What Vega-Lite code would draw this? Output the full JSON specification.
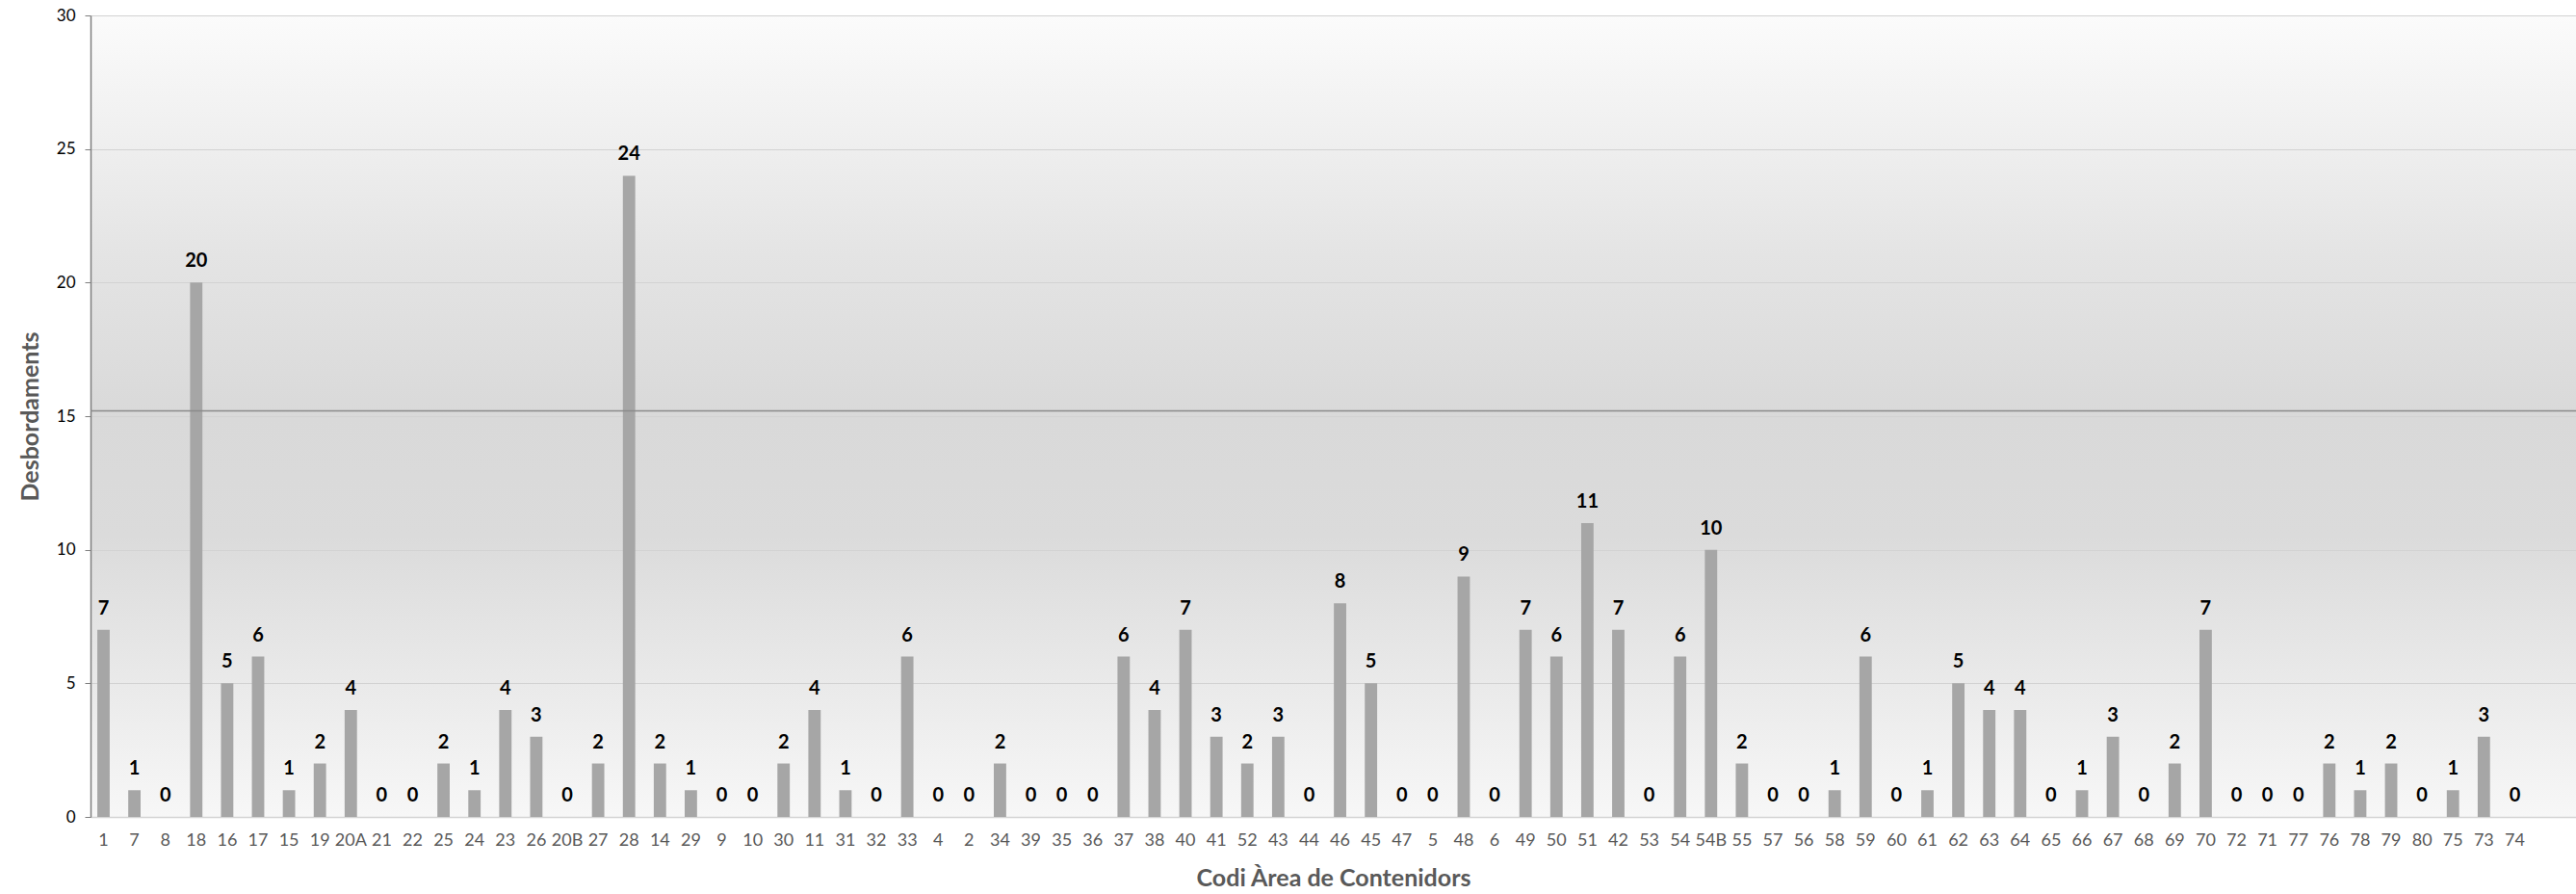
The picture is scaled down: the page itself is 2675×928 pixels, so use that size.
{
  "$schema": "https://vega.github.io/schema/vega-lite/v6.json",
  "width": 2581,
  "height": 832,
  "autosize": {"type": "none"},
  "padding": {"left": 94, "top": 16, "right": 0, "bottom": 80},
  "background": "#ffffff",
  "config": {
    "view": {
      "stroke": null,
      "fill": {
        "gradient": "linear",
        "x1": 0, "y1": 0, "x2": 0, "y2": 1,
        "stops": [
          {"offset": 0, "color": "#fbfbfb"},
          {"offset": 0.3, "color": "#e4e4e4"},
          {"offset": 0.5, "color": "#d9d9d9"},
          {"offset": 0.65, "color": "#dbdbdb"},
          {"offset": 0.85, "color": "#ebebeb"},
          {"offset": 1, "color": "#f7f7f7"}
        ]
      }
    },
    "font": "Lato"
  },
  "datasets": {
    "areas": [
      {"codi": "1", "desbordaments": 7},
      {"codi": "7", "desbordaments": 1},
      {"codi": "8", "desbordaments": 0},
      {"codi": "18", "desbordaments": 20},
      {"codi": "16", "desbordaments": 5},
      {"codi": "17", "desbordaments": 6},
      {"codi": "15", "desbordaments": 1},
      {"codi": "19", "desbordaments": 2},
      {"codi": "20A", "desbordaments": 4},
      {"codi": "21", "desbordaments": 0},
      {"codi": "22", "desbordaments": 0},
      {"codi": "25", "desbordaments": 2},
      {"codi": "24", "desbordaments": 1},
      {"codi": "23", "desbordaments": 4},
      {"codi": "26", "desbordaments": 3},
      {"codi": "20B", "desbordaments": 0},
      {"codi": "27", "desbordaments": 2},
      {"codi": "28", "desbordaments": 24},
      {"codi": "14", "desbordaments": 2},
      {"codi": "29", "desbordaments": 1},
      {"codi": "9", "desbordaments": 0},
      {"codi": "10", "desbordaments": 0},
      {"codi": "30", "desbordaments": 2},
      {"codi": "11", "desbordaments": 4},
      {"codi": "31", "desbordaments": 1},
      {"codi": "32", "desbordaments": 0},
      {"codi": "33", "desbordaments": 6},
      {"codi": "4", "desbordaments": 0},
      {"codi": "2", "desbordaments": 0},
      {"codi": "34", "desbordaments": 2},
      {"codi": "39", "desbordaments": 0},
      {"codi": "35", "desbordaments": 0},
      {"codi": "36", "desbordaments": 0},
      {"codi": "37", "desbordaments": 6},
      {"codi": "38", "desbordaments": 4},
      {"codi": "40", "desbordaments": 7},
      {"codi": "41", "desbordaments": 3},
      {"codi": "52", "desbordaments": 2},
      {"codi": "43", "desbordaments": 3},
      {"codi": "44", "desbordaments": 0},
      {"codi": "46", "desbordaments": 8},
      {"codi": "45", "desbordaments": 5},
      {"codi": "47", "desbordaments": 0},
      {"codi": "5", "desbordaments": 0},
      {"codi": "48", "desbordaments": 9},
      {"codi": "6", "desbordaments": 0},
      {"codi": "49", "desbordaments": 7},
      {"codi": "50", "desbordaments": 6},
      {"codi": "51", "desbordaments": 11},
      {"codi": "42", "desbordaments": 7},
      {"codi": "53", "desbordaments": 0},
      {"codi": "54", "desbordaments": 6},
      {"codi": "54B", "desbordaments": 10},
      {"codi": "55", "desbordaments": 2},
      {"codi": "57", "desbordaments": 0},
      {"codi": "56", "desbordaments": 0},
      {"codi": "58", "desbordaments": 1},
      {"codi": "59", "desbordaments": 6},
      {"codi": "60", "desbordaments": 0},
      {"codi": "61", "desbordaments": 1},
      {"codi": "62", "desbordaments": 5},
      {"codi": "63", "desbordaments": 4},
      {"codi": "64", "desbordaments": 4},
      {"codi": "65", "desbordaments": 0},
      {"codi": "66", "desbordaments": 1},
      {"codi": "67", "desbordaments": 3},
      {"codi": "68", "desbordaments": 0},
      {"codi": "69", "desbordaments": 2},
      {"codi": "70", "desbordaments": 7},
      {"codi": "72", "desbordaments": 0},
      {"codi": "71", "desbordaments": 0},
      {"codi": "77", "desbordaments": 0},
      {"codi": "76", "desbordaments": 2},
      {"codi": "78", "desbordaments": 1},
      {"codi": "79", "desbordaments": 2},
      {"codi": "80", "desbordaments": 0},
      {"codi": "75", "desbordaments": 1},
      {"codi": "73", "desbordaments": 3},
      {"codi": "74", "desbordaments": 0}
    ],
    "linia": [{"valor": 15.2}]
  },
  "layer": [
    {
      "data": {"name": "areas"},
      "mark": {"type": "bar", "color": "#a6a6a6"},
      "encoding": {
        "x": {
          "field": "codi",
          "type": "nominal",
          "sort": null,
          "scale": {"paddingInner": 0.6, "paddingOuter": 1.15, "align": 0.11},
          "axis": {
            "title": "Codi Àrea de Contenidors",
            "titleFont": "Lato",
            "titleFontSize": 25,
            "titleFontWeight": "bold",
            "titleColor": "#595959",
            "titlePadding": 18,
            "labelAngle": 0,
            "labelFont": "Lato",
            "labelFontSize": 18,
            "labelColor": "#595959",
            "labelPadding": 15,
            "ticks": false,
            "domainColor": "#d4d4d4",
            "domainWidth": 1.5,
            "labelOverlap": false
          }
        },
        "y": {
          "field": "desbordaments",
          "type": "quantitative",
          "scale": {"domain": [0, 30], "nice": false},
          "axis": {
            "title": "Desbordaments",
            "titleFont": "Lato",
            "titleFontSize": 25,
            "titleFontWeight": "bold",
            "titleColor": "#595959",
            "titlePadding": 14,
            "values": [0, 5, 10, 15, 20, 25, 30],
            "labelFont": "Lato",
            "labelFontSize": 17,
            "labelColor": "#000000",
            "labelPadding": 10,
            "tickSize": 6,
            "tickColor": "#7f7f7f",
            "domainColor": "#7f7f7f",
            "domainWidth": 1.5,
            "gridColor": "#d2d2d2",
            "gridWidth": 1
          }
        }
      }
    },
    {
      "data": {"name": "areas"},
      "mark": {"type": "text", "font": "Lato", "fontSize": 20, "fontWeight": "bold", "color": "#000000", "baseline": "middle", "dy": -22},
      "encoding": {
        "x": {"field": "codi", "type": "nominal", "sort": null},
        "y": {"field": "desbordaments", "type": "quantitative"},
        "text": {"field": "desbordaments", "type": "quantitative"}
      }
    },
    {
      "data": {"name": "linia"},
      "mark": {"type": "rule", "color": "#8a8a8a", "strokeWidth": 1.5},
      "encoding": {
        "y": {"field": "valor", "type": "quantitative"}
      }
    }
  ]
}
